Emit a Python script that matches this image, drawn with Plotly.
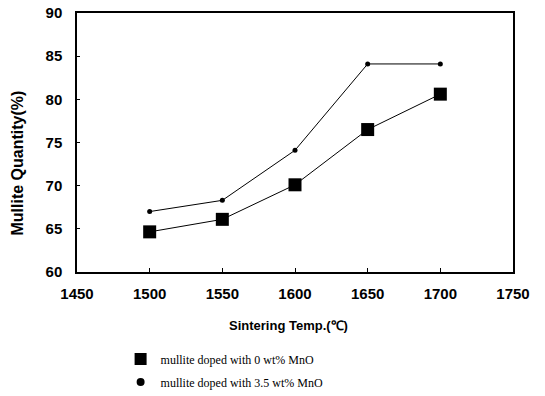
import plotly.graph_objects as go

temps = [1500, 1550, 1600, 1650, 1700]
mno_0 = [64.65, 66.1, 70.1, 76.5, 80.6]
mno_35 = [67.0, 68.3, 74.1, 84.1, 84.1]
x_ticks = [1450, 1500, 1550, 1600, 1650, 1700, 1750]
y_ticks = [60, 65, 70, 75, 80, 85, 90]
label_0 = "mullite doped with 0 wt% MnO"
label_35 = "mullite doped with 3.5 wt% MnO"

fig = go.Figure()
fig.add_trace(go.Scatter(x=temps, y=mno_35, mode="lines+markers",
                         line=dict(color="black", width=1),
                         marker=dict(symbol="circle", size=5, color="black"),
                         showlegend=False))
fig.add_trace(go.Scatter(x=temps, y=mno_0, mode="lines+markers",
                         line=dict(color="black", width=1),
                         marker=dict(symbol="square", size=13, color="black"),
                         showlegend=False))
# legend-only entries (markers without lines)
fig.add_trace(go.Scatter(x=[None], y=[None], mode="markers", name=label_0,
                         legendgroup="a",
                         marker=dict(symbol="square", size=12, color="black")))
fig.add_trace(go.Scatter(x=[None], y=[None], mode="markers", name=label_35,
                         legendgroup="b",
                         marker=dict(symbol="circle", size=8, color="black")))

tickfont = dict(family="Liberation Sans", size=15, color="black", weight="bold")
fig.update_xaxes(range=[1450, 1750], tickvals=x_ticks, ticks="inside", ticklen=4,
                 tickcolor="black", showline=True, linecolor="black", linewidth=1.5,
                 mirror=True, showgrid=False, zeroline=False, tickfont=tickfont,
                 ticklabelstandoff=7, automargin=False)
fig.update_yaxes(range=[60, 90], tickvals=y_ticks, ticks="inside", ticklen=3,
                 tickcolor="black", showline=True, linecolor="black", linewidth=1.5,
                 mirror=True, showgrid=False, zeroline=False, tickfont=tickfont,
                 ticklabelstandoff=10, automargin=False)

fig.add_annotation(text="Sintering Temp.(℃)", xref="paper", yref="paper",
                   x=0.484, y=-0.205, showarrow=False, yanchor="middle",
                   font=dict(family="Liberation Sans", size=13, color="black", weight="bold"))
fig.add_annotation(text="Mullite Quantity(%)", xref="paper", yref="paper",
                   x=-0.137, y=0.42, showarrow=False, textangle=-90,
                   xanchor="center", yanchor="middle",
                   font=dict(family="Liberation Sans", size=16, color="black", weight="bold"))

fig.update_layout(
    width=545, height=396,
    margin=dict(l=77, r=32, t=13, b=124, autoexpand=False),
    paper_bgcolor="white", plot_bgcolor="white",
    legend=dict(x=0.1, y=0.13, xref="paper", yref="container",
                xanchor="left", yanchor="top",
                font=dict(family="Liberation Serif", size=12, color="black"),
                itemsizing="trace", tracegroupgap=4, bgcolor="rgba(0,0,0,0)"),
)
fig.write_html("out.html")
